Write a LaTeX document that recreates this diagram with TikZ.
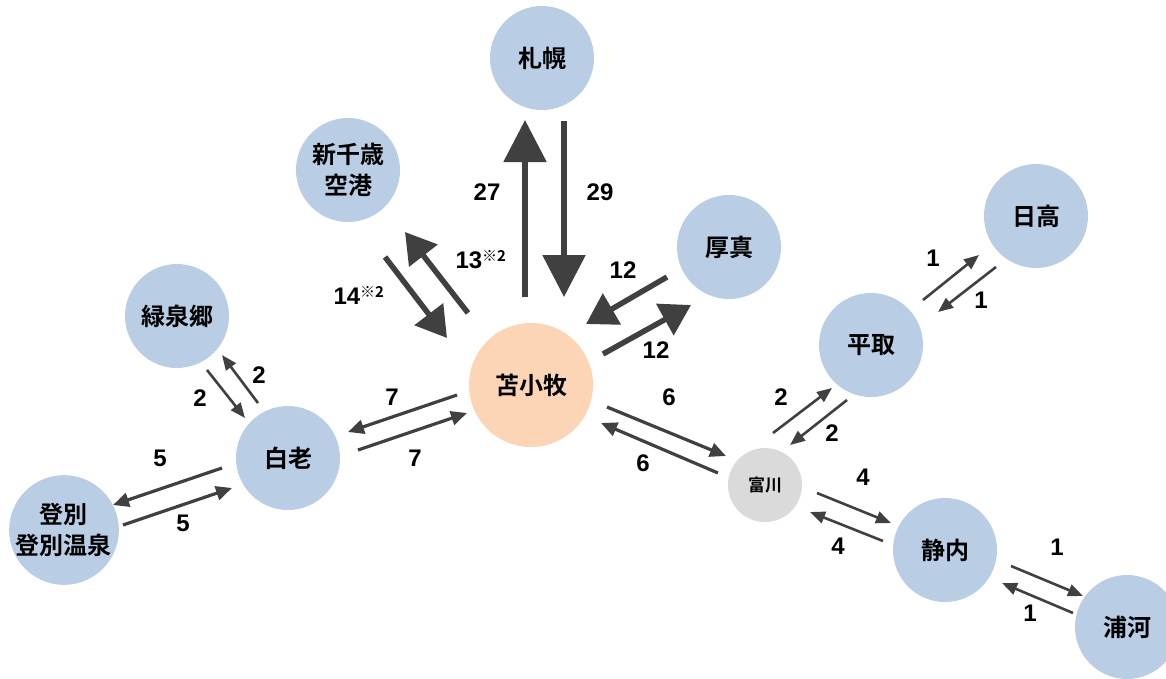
\documentclass[tikz,border=0pt]{standalone}
\usepackage{fontspec}
\setmainfont{Liberation Sans}
\newfontfamily\jp{Noto Sans CJK JP}[BoldFont={* Bold}]
\usetikzlibrary{arrows.meta,calc}

\definecolor{stnblue}{RGB}{185,205,228}
\definecolor{hubpeach}{RGB}{251,213,181}
\definecolor{stngray}{RGB}{218,218,218}
\definecolor{arrgray}{RGB}{64,64,64}

\begin{document}
\begin{tikzpicture}[
    x=1pt, y=-1pt,
    stn/.style={
        circle,
        fill=stnblue,
        minimum size=104pt,
        inner sep=0pt,
        align=center,
        font=\jp\bfseries\fontsize{24}{31}\selectfont
    },
    hub/.style={
        stn,
        fill=hubpeach,
        minimum size=124pt
    },
    smallstn/.style={
        stn,
        fill=stngray,
        minimum size=74pt,
        font=\jp\bfseries\fontsize{17}{20}\selectfont
    },
    bigflow/.style={
        color=arrgray,
        line width=5.5pt,
        -{Triangle[width=42pt,length=42pt]}
    },
    midflow/.style={
        color=arrgray,
        line width=5.5pt,
        -{Triangle[width=35pt,length=30pt]}
    },
    flow/.style={
        color=arrgray,
        line width=3.2pt,
        -{Triangle[width=14pt,length=16pt]}
    },
    thinflow/.style={
        color=arrgray,
        line width=2.6pt,
        -{Triangle[width=12pt,length=15pt]}
    },
    num/.style={
        font=\bfseries\fontsize{24}{24}\selectfont
    }
]
    \useasboundingbox (0,0) rectangle (1166,678);

    % --- Stations ---
    \node[stn] (sapporo) at (542,58) {札幌};
    \node[stn] (chitose) at (348,170) {新千歳\\空港};
    \node[stn] (atsuma) at (729,247) {厚真};
    \node[stn] (hidaka) at (1036,216) {日高};
    \node[stn] (ryokusen) at (177,316) {緑泉郷};
    \node[hub] (tomakomai) at (531,385) {苫小牧};
    \node[stn] (biratori) at (871,345) {平取};
    \node[stn] (shiraoi) at (288,458) {白老};
    \node[smallstn] (tomikawa) at (765,485) {富川};
    \node[stn] (noboribetsu) at (64,530) {登別\\登別温泉};
    \node[stn] (shizunai) at (945,550) {静内};
    \node[stn] (urakawa) at (1127,627) {浦河};

    % --- Sapporo ---
    \draw[bigflow] ($(tomakomai)+(-6,-88)$) -- ($(sapporo)+(-17,62)$);
    \draw[bigflow] ($(sapporo)+(22,63)$) -- ($(tomakomai)+(33,-88)$);
    \node[num] (n27) at (487,192) {27};
    \node[num] (n29) at (600,192) {29};

    % --- New Chitose ---
    \draw[midflow] ($(tomakomai)+(-63,-72)$) -- ($(chitose)+(57,62)$);
    \draw[midflow] ($(chitose)+(37,87)$) -- ($(tomakomai)+(-84,-47)$);
    \node[num, anchor=base west] (n13) at (452,268)
        {13\raisebox{7pt}{\jp\bfseries\fontsize{15}{15}\selectfont ※2}};
    \node[num, anchor=base west] (n14) at (330,304)
        {14\raisebox{7pt}{\jp\bfseries\fontsize{15}{15}\selectfont ※2}};

    % --- Atsuma ---
    \draw[midflow] ($(atsuma)+(-62,30)$) -- ($(tomakomai)+(55,-61)$);
    \draw[midflow] ($(tomakomai)+(72,-31)$) -- ($(atsuma)+(-38,58)$);
    \node[num] (n12a) at (623,270) {12};
    \node[num] (n12b) at (656,350) {12};

    % --- Shiraoi line ---
    \draw[flow] ($(tomakomai)+(-74,10)$) -- ($(shiraoi)+(60,-26)$);
    \draw[flow] ($(shiraoi)+(70,-8)$) -- ($(tomakomai)+(-64,28)$);
    \node[num] (n7a) at (392,397) {7};
    \node[num] (n7b) at (415,458) {7};

    \draw[thinflow] ($(ryokusen)+(30,54)$) -- ($(shiraoi)+(-43,-40)$);
    \draw[thinflow] ($(shiraoi)+(-30,-55)$) -- ($(ryokusen)+(45,39)$);
    \node[num] (n2a) at (200,398) {2};
    \node[num] (n2b) at (259,375) {2};

    \draw[flow] ($(shiraoi)+(-66,10)$) -- ($(noboribetsu)+(49,-25)$);
    \draw[flow] ($(noboribetsu)+(59,-5)$) -- ($(shiraoi)+(-56,30)$);
    \node[num] (n5a) at (160,458) {5};
    \node[num] (n5b) at (183,523) {5};

    % --- Hidaka line ---
    \draw[flow] ($(tomakomai)+(76,22)$) -- ($(tomikawa)+(-39,-29)$);
    \draw[flow] ($(tomikawa)+(-47,-12)$) -- ($(tomakomai)+(70,38)$);
    \node[num] (n6a) at (669,397) {6};
    \node[num] (n6b) at (643,463) {6};

    \draw[thinflow] ($(tomikawa)+(8,-52)$) -- ($(biratori)+(-39,43)$);
    \draw[thinflow] ($(biratori)+(-24,55)$) -- ($(tomikawa)+(25,-40)$);
    \node[num] (n2c) at (781,397) {2};
    \node[num] (n2d) at (832,433) {2};

    \draw[thinflow] ($(biratori)+(52,-45)$) -- ($(hidaka)+(-57,39)$);
    \draw[thinflow] ($(hidaka)+(-40,51)$) -- ($(biratori)+(67,-33)$);
    \node[num] (n1a) at (933,258) {1};
    \node[num] (n1b) at (981,300) {1};

    \draw[thinflow] ($(tomikawa)+(52,8)$) -- ($(shizunai)+(-54,-27)$);
    \draw[thinflow] ($(shizunai)+(-62,-9)$) -- ($(tomikawa)+(45,27)$);
    \node[num] (n4a) at (863,477) {4};
    \node[num] (n4b) at (838,546) {4};

    \draw[thinflow] ($(shizunai)+(66,16)$) -- ($(urakawa)+(-44,-31)$);
    \draw[thinflow] ($(urakawa)+(-54,-14)$) -- ($(shizunai)+(57,33)$);
    \node[num] (n1c) at (1057,547) {1};
    \node[num] (n1d) at (1030,613) {1};
\end{tikzpicture}
\end{document}
